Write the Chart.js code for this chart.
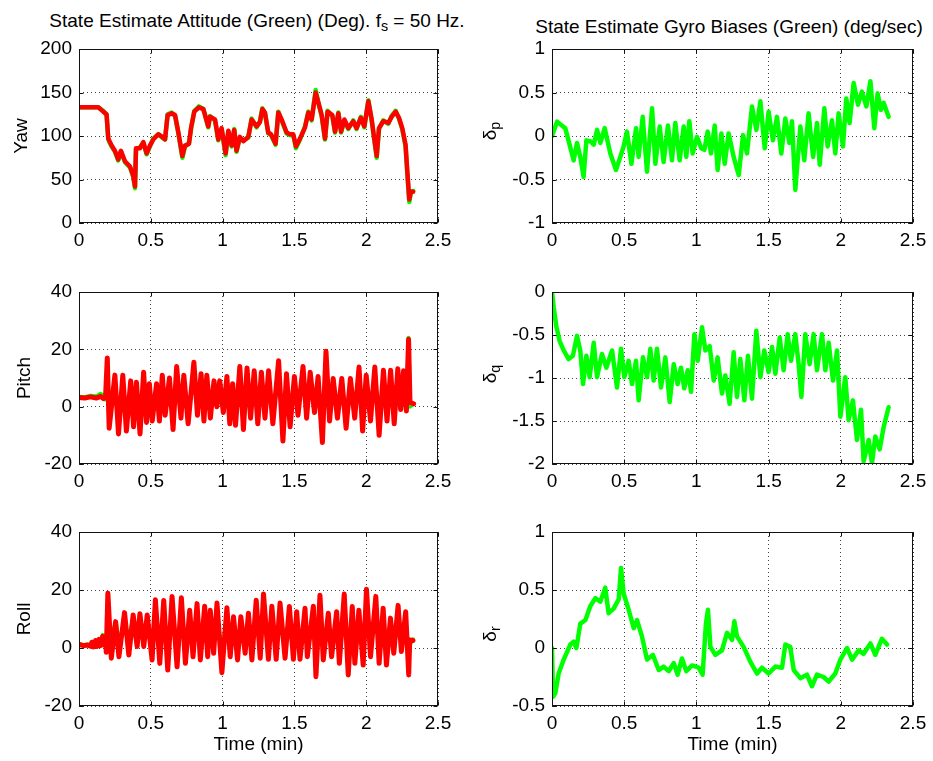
<!DOCTYPE html>
<html>
<head>
<meta charset="utf-8">
<script src="https://cdn.jsdelivr.net/npm/chart.js@4.4.1/dist/chart.umd.min.js"></script>
<style>
  body { margin: 0; background: #fff; }
  #fig { position: relative; width: 933px; height: 761px; overflow: hidden;
         font-family: "Liberation Sans", Arial, sans-serif; color: #000; background: #fff; }
  #fig canvas { position: absolute; }
  .title { position: absolute; font-size: 19px; line-height: 1; white-space: nowrap; transform: translateX(-50%); }
  .ylab  { position: absolute; font-size: 19px; line-height: 1; white-space: nowrap;
           transform: translate(-50%, -50%) rotate(-90deg); }
  sub { font-size: 0.75em; vertical-align: -0.3em; line-height: 0; }
</style>
</head>
<body>
<div id="fig">
  <div class="title" style="left:257px;top:11px">State Estimate Attitude (Green) (Deg). f<sub>s</sub> = 50 Hz.</div>
  <div class="title" style="left:729px;top:17px">State Estimate Gyro Biases (Green) (deg/sec)</div>

  <canvas id="c_yaw"   width="460" height="230" style="left:0px;top:30px"></canvas>
  <canvas id="c_pitch" width="460" height="230" style="left:0px;top:270px"></canvas>
  <canvas id="c_roll"  width="460" height="251" style="left:0px;top:510px"></canvas>
  <canvas id="c_dp"    width="467" height="230" style="left:466px;top:30px"></canvas>
  <canvas id="c_dq"    width="467" height="230" style="left:466px;top:270px"></canvas>
  <canvas id="c_dr"    width="467" height="251" style="left:466px;top:510px"></canvas>

  <div class="ylab" style="left:489px;top:131px">&delta;<sub>p</sub></div>
  <div class="ylab" style="left:489px;top:374px">&delta;<sub>q</sub></div>
  <div class="ylab" style="left:489px;top:634px">&delta;<sub>r</sub></div>
</div>

<script>
// ---- data (time in minutes) ----
const x_ticks = [0, 0.5, 1, 1.5, 2, 2.5];

const yaw_t = [0, 0.134, 0.169, 0.192, 0.204, 0.227, 0.25, 0.273, 0.292, 0.32, 0.355, 0.378, 0.39, 0.397, 0.425,
  0.448, 0.471, 0.494, 0.517, 0.552, 0.58, 0.599, 0.617, 0.645, 0.669, 0.692, 0.72, 0.738, 0.766, 0.78,
  0.803, 0.835, 0.866, 0.9, 0.912, 0.947, 0.97, 0.993, 1.021, 1.04, 1.063, 1.081, 1.097, 1.12, 1.144,
  1.179, 1.202, 1.237, 1.26, 1.277, 1.295, 1.318, 1.337, 1.369, 1.388, 1.411, 1.446, 1.469, 1.492, 1.511,
  1.539, 1.574, 1.597, 1.62, 1.648, 1.671, 1.69, 1.713, 1.731, 1.764, 1.783, 1.806, 1.825, 1.848, 1.875,
  1.91, 1.933, 1.963, 1.987, 2.015, 2.038, 2.056, 2.073, 2.089, 2.119, 2.154, 2.177, 2.205, 2.228, 2.251,
  2.274, 2.288, 2.3, 2.311, 2.327];
const yaw_red = [133, 133, 128, 125, 97, 89, 83, 73, 83, 71, 65, 54, 42, 86, 86,
  93, 80, 89, 96, 102, 99, 96, 124, 126, 124, 104, 77, 89, 91, 109,
  128, 133, 131, 111, 122, 119, 96, 109, 80, 106, 89, 107, 83, 99, 94,
  99, 119, 111, 116, 131, 127, 104, 102, 91, 127, 119, 104, 102, 102, 88,
  97, 110, 127, 119, 150, 136, 124, 97, 128, 124, 105, 126, 105, 119, 109,
  117, 109, 121, 111, 140, 119, 97, 77, 109, 117, 115, 122, 128, 121, 109,
  90, 55, 27, 36, 36];
const yaw_green = [133, 133, 129, 124, 96, 88, 82, 72, 82, 70, 64, 53, 40, 85, 87,
  92, 79, 88, 97, 102, 98, 96, 125, 127, 123, 103, 75, 88, 92, 108,
  129, 134, 131, 110, 123, 118, 95, 108, 78, 105, 88, 108, 82, 98, 95,
  98, 120, 110, 117, 132, 126, 103, 101, 90, 128, 118, 103, 101, 101, 86,
  96, 111, 128, 118, 153, 135, 123, 96, 129, 123, 104, 127, 104, 118, 108,
  118, 108, 122, 110, 141, 118, 96, 75, 108, 118, 114, 123, 129, 120, 108,
  88, 53, 24, 35, 37];

const pitch_t = [0, 0.04, 0.08, 0.12, 0.15, 0.17, 0.185, 0.197, 0.21, 0.25, 0.275, 0.305, 0.33, 0.36, 0.38,
  0.40, 0.425, 0.45, 0.47, 0.49, 0.51, 0.54, 0.56, 0.58, 0.60, 0.63, 0.655, 0.68, 0.71, 0.73,
  0.76, 0.80, 0.825, 0.85, 0.87, 0.89, 0.915, 0.94, 0.96, 0.98, 1.005, 1.03, 1.05, 1.07, 1.09,
  1.12, 1.145, 1.17, 1.195, 1.22, 1.245, 1.27, 1.295, 1.32, 1.35, 1.39, 1.42, 1.445, 1.47, 1.50,
  1.525, 1.56, 1.585, 1.61, 1.64, 1.665, 1.695, 1.72, 1.745, 1.77, 1.80, 1.83, 1.86, 1.89, 1.92,
  1.95, 1.975, 2.00, 2.03, 2.06, 2.09, 2.12, 2.145, 2.17, 2.195, 2.22, 2.24, 2.26, 2.28, 2.295,
  2.305, 2.33];
const pitch_red = [3.2, 3.0, 3.4, 3.0, 3.6, 2.8, 3.5, 17, -7.5, 11, -9.5, 11, -8.5, 9, -7,
  8.5, -9.5, 12, -5.5, 8, -5, 8, -5, 11, -3, 10, -8, 14, -4, 11,
  -6, 15.5, -3, 11.5, -5, 11, -4, 9, 0, 9, -2, 10.5, -6, 8, -6.5,
  14, -8, 13.5, -4, 12.5, -6, 12, -4, 12.5, -6, 16, -12, 11.5, -7, 10.5,
  -3, 14, -4, 12, -2, 10.5, -12.5, 19.3, -5, 9.8, -4, 9.8, -7.5, 9.8, -4,
  13.8, -8.5, 11, -5, 13.8, -10, 12.7, -5, 12.7, -6, 13.2, -1, 12.5, -1.5, 23.5,
  1.5, 1];
const pitch_green = [3.5, 3.3, 3.8, 3.6, 4.5, 4, 2.5, 8, 1, 6, -1, 6.5, 0, 6, -1,
  5, -2, 6, 1, 6, 0, 5, 1, 7, 1, 6, -1, 8, 1, 7,
  0, 8, 2, 7, 1, 7, 1, 6, 3, 7, 2, 6, 0, 5, 0,
  7, -1, 8, 1, 7, 0, 7, 1, 7, 0, 8, -3, 7, 0, 6,
  2, 8, 1, 8, 2, 6, -4, 9, 0, 6, 1, 6, -1, 6, 1,
  7, -1, 6, 0, 7, -2, 7, 1, 7, 0, 7, 2, 6, -1, 24,
  0, 1];

const roll_t = [0, 0.03, 0.06, 0.08, 0.09, 0.10, 0.115, 0.125, 0.14, 0.15, 0.165, 0.175, 0.185, 0.19, 0.201,
  0.225, 0.255, 0.278, 0.317, 0.347, 0.377, 0.405, 0.424, 0.451, 0.475, 0.509, 0.532, 0.5625, 0.59, 0.618,
  0.648, 0.683, 0.713, 0.741, 0.771, 0.794, 0.822, 0.845, 0.875, 0.896, 0.914, 0.9375, 0.961, 0.995, 1.03,
  1.053, 1.076, 1.104, 1.127, 1.157, 1.18, 1.204, 1.234, 1.262, 1.285, 1.319, 1.343, 1.373, 1.40, 1.435,
  1.465, 1.493, 1.516, 1.539, 1.574, 1.59, 1.632, 1.65, 1.678, 1.701, 1.736, 1.759, 1.794, 1.813, 1.847,
  1.875, 1.903, 1.921, 1.949, 1.979, 2.002, 2.03, 2.067, 2.09, 2.118, 2.141, 2.169, 2.192, 2.222, 2.245,
  2.275, 2.296, 2.303, 2.326];
const roll_red = [1.2, 0.8, 1.0, 0.6, 2, 0.4, 2.6, 0.5, 3, 0.8, 4, 1, 3.2, -1.5, 18.9,
  -3.5, 9.1, -3, 12.2, -2.4, 11.4, 0.5, 11.8, 0.5, 11.4, -4.1, 16.6, -5.3, 16.4, -7.6,
  17.8, -6.5, 17.3, -5.3, 13, -3, 15.3, -4.1, 14.4, -3, 13, -1.8, 15.5, -8.5, 13.9,
  -3, 10.8, -4.1, 10.8, -1.8, 12, -4.1, 16.5, -3.5, 18.6, -3.9, 14.4, -3.9, 15.5, -3.5,
  14.3, -3.9, 12.5, -3.9, 13.7, -3, 14.4, -9.9, 18.2, -4.1, 12, -3, 12.5, -5.3, 18.6,
  -9.3, 14.3, -5.3, 13, -5.9, 20.3, -3, 17.8, -5.3, 13.7, -5.9, 10.3, -1.8, 14.7, -1.2,
  12.5, -9.3, 2.8, 2.6];
const roll_green = [1.5, 1, 1.2, 1, 1.5, 1, 2, 1.5, 2.5, 2, 4.5, 2, 2, 1, 12,
  3, 9, 2, 9, 3, 10, 4, 10, 4, 9, 0, 10, 1, 10, -1,
  12, 0, 11, 1, 9, 2, 10, 1, 9, 2, 9, 3, 10, 0, 9,
  2, 8, 1, 8, 3, 9, 1, 10, 2, 11, 1, 9, 1, 10, 2,
  9, 1, 8, 1, 9, 2, 9, -1, 16, 1, 8, 2, 8, 1, 11,
  -1, 9, 1, 8, 1, 13, 2, 11, 1, 9, 2, 8, 3, 9, 3,
  8, -4, 1, 3];

const dp_t = [0, 0.035, 0.092, 0.15, 0.173, 0.196, 0.219, 0.238, 0.265, 0.289, 0.312, 0.335, 0.365, 0.404, 0.443,
  0.473, 0.496, 0.519, 0.55, 0.582, 0.6, 0.628, 0.658, 0.693, 0.716, 0.746, 0.773, 0.803, 0.831, 0.854,
  0.884, 0.912, 0.93, 0.951, 0.974, 1.004, 1.034, 1.055, 1.078, 1.101, 1.127, 1.147, 1.173, 1.196, 1.223,
  1.258, 1.293, 1.323, 1.35, 1.385, 1.415, 1.443, 1.473, 1.5, 1.53, 1.558, 1.588, 1.616, 1.644, 1.662,
  1.685, 1.72, 1.747, 1.777, 1.808, 1.835, 1.854, 1.886, 1.909, 1.939, 1.962, 1.985, 2.015, 2.038, 2.061,
  2.089, 2.119, 2.146, 2.177, 2.205, 2.232, 2.255, 2.278, 2.297, 2.331];
const dp_val = [0, 0.165, 0.09, -0.28, -0.08, -0.24, -0.47, -0.05, -0.06, -0.1, 0.07, -0.08, 0.09, -0.2, -0.39,
  -0.24, -0.12, 0.05, -0.32, 0.09, -0.24, 0.22, -0.41, 0.32, -0.32, 0.11, -0.3, 0.12, -0.28, 0.15,
  -0.28, 0.11, -0.24, 0.17, -0.2, -0.01, -0.14, -0.16, 0.05, -0.2, 0.12, -0.39, 0.03, -0.32, 0.03,
  -0.24, -0.45, 0.01, -0.2, 0.34, 0.07, 0.4, -0.14, 0.28, -0.05, 0.22, -0.2, 0.2, -0.08, 0.17,
  -0.62, 0.11, -0.28, 0.26, -0.24, 0.15, -0.33, 0.32, -0.12, 0.18, -0.2, 0.26, -0.12, 0.43, 0.15,
  0.61, 0.36, 0.51, 0.34, 0.63, 0.09, 0.49, 0.3, 0.38, 0.22];

const dq_t = [0, 0.012, 0.03, 0.053, 0.081, 0.115, 0.145, 0.173, 0.196, 0.215, 0.238, 0.261, 0.289, 0.312, 0.346,
  0.376, 0.416, 0.45, 0.478, 0.501, 0.531, 0.554, 0.582, 0.6, 0.63, 0.658, 0.681, 0.704, 0.727, 0.755,
  0.785, 0.815, 0.843, 0.87, 0.893, 0.916, 0.94, 0.963, 0.986, 1.009, 1.039, 1.062, 1.092, 1.12, 1.147,
  1.177, 1.2, 1.23, 1.258, 1.281, 1.304, 1.332, 1.357, 1.385, 1.415, 1.443, 1.47, 1.5, 1.524, 1.547,
  1.577, 1.604, 1.632, 1.655, 1.685, 1.708, 1.727, 1.754, 1.784, 1.812, 1.835, 1.87, 1.893, 1.916, 1.946,
  1.974, 1.997, 2.031, 2.054, 2.084, 2.112, 2.14, 2.158, 2.193, 2.216, 2.239, 2.269, 2.297, 2.331];
const dq_val = [0, -0.18, -0.4, -0.57, -0.68, -0.78, -0.74, -0.51, -0.68, -1.07, -0.74, -0.99, -0.59, -0.99, -0.72,
  -0.88, -0.68, -1.11, -0.66, -0.99, -0.8, -1.07, -0.8, -1.26, -0.76, -0.99, -0.66, -1.03, -0.66, -1.11,
  -0.76, -1.28, -0.84, -1.07, -0.88, -1.12, -0.91, -1.16, -0.49, -0.8, -0.41, -0.68, -0.63, -1.03, -0.76,
  -1.18, -0.97, -1.3, -0.7, -1.22, -0.78, -1.26, -0.74, -1.24, -0.45, -0.99, -0.68, -0.93, -0.64, -0.95,
  -0.53, -0.91, -0.49, -0.8, -0.49, -0.84, -1.22, -0.49, -0.84, -0.49, -0.91, -0.49, -0.91, -0.59, -1.03,
  -0.68, -1.45, -0.99, -1.49, -1.26, -1.72, -1.37, -1.97, -1.72, -1.99, -1.68, -1.83, -1.57, -1.34];

const dr_t = [0, 0.007, 0.023, 0.046, 0.081, 0.127, 0.15, 0.169, 0.196, 0.231, 0.265, 0.3, 0.335, 0.369, 0.392,
  0.427, 0.462, 0.478, 0.496, 0.531, 0.566, 0.589, 0.623, 0.658, 0.699, 0.739, 0.773, 0.808, 0.843, 0.87,
  0.9, 0.93, 0.97, 1.016, 1.043, 1.066, 1.08, 1.097, 1.131, 1.177, 1.212, 1.247, 1.263, 1.281, 1.327,
  1.374, 1.42, 1.454, 1.5, 1.547, 1.593, 1.616, 1.65, 1.674, 1.72, 1.766, 1.8, 1.835, 1.881, 1.916,
  1.962, 1.997, 2.043, 2.078, 2.124, 2.158, 2.205, 2.239, 2.285, 2.32];
const dr_val = [0, -0.42, -0.39, -0.22, -0.1, 0.03, 0.055, 0, 0.21, 0.24, 0.36, 0.43, 0.4, 0.52, 0.3,
  0.34, 0.42, 0.69, 0.47, 0.33, 0.17, 0.24, 0.1, -0.1, -0.06, -0.19, -0.16, -0.2, -0.13, -0.23,
  -0.09, -0.2, -0.15, -0.17, -0.23, 0.21, 0.33, 0.01, -0.06, -0.02, 0.13, 0.07, 0.23, 0.1, 0.01,
  -0.12, -0.22, -0.17, -0.22, -0.16, -0.17, 0.03, 0.01, -0.19, -0.26, -0.23, -0.33, -0.23, -0.25, -0.29,
  -0.22, -0.1, 0, -0.1, -0.02, -0.05, 0.04, -0.06, 0.08, 0.03];

// ---- drawing ----
const FONT = { family: '"Liberation Sans", Arial, sans-serif', size: 19 };
const RED = '#ff0000';
const GREEN = '#00ff00';

function xy(ts, vs) {
    return ts.map((t, i) => ({ x: t, y: vs[i] }));
}

function line(ts, vs, color, width) {
    return { data: xy(ts, vs), borderColor: color, borderWidth: width, pointRadius: 0,
             tension: 0, borderJoinStyle: 'round', borderCapStyle: 'round' };
}

// plain numbers like MATLAB: 1 not 1.0
function tick_text(v) {
    return String(Math.round(v * 100) / 100);
}

// MATLAB style box with inward ticks, drawn over the data
const matlab_box = {
    id: 'matlab_box',
    afterDatasetsDraw(chart) {
        const { ctx, chartArea: a, scales } = chart;
        const L = Math.round(a.left) + 0.5, R = Math.round(a.right) - 0.5;
        const T = Math.round(a.top) + 0.5, B = Math.round(a.bottom) - 0.5;
        ctx.save();
        ctx.strokeStyle = '#111';
        ctx.lineWidth = 1;
        ctx.beginPath();
        scales.x.ticks.forEach(t => {
            const px = Math.round(scales.x.getPixelForValue(t.value)) + 0.5;
            ctx.moveTo(px, B); ctx.lineTo(px, B - 4);
            ctx.moveTo(px, T); ctx.lineTo(px, T + 4);
        });
        scales.y.ticks.forEach(t => {
            const py = Math.round(scales.y.getPixelForValue(t.value)) + 0.5;
            ctx.moveTo(L, py); ctx.lineTo(L + 4, py);
            ctx.moveTo(R, py); ctx.lineTo(R - 4, py);
        });
        ctx.stroke();
        ctx.strokeRect(L, T, R - L, B - T);
        ctx.restore();
    }
};

function make_chart(id, c) {
    const grid = { color: '#444', lineWidth: 1, drawTicks: false };
    const border = { display: false, dash: [1, 3] };
    return new Chart(document.getElementById(id), {
        type: 'line',
        data: { datasets: c.datasets },
        options: {
            responsive: false,
            animation: false,
            events: [],
            layout: { padding: c.padding },
            plugins: { legend: { display: false }, tooltip: { enabled: false } },
            scales: {
                x: {
                    type: 'linear', min: 0, max: 2.5,
                    afterBuildTicks: s => { s.ticks = x_ticks.map(v => ({ value: v })); },
                    ticks: { color: '#000', font: FONT, padding: 6, maxRotation: 0, callback: tick_text },
                    grid: grid, border: border,
                    title: c.x_title
                        ? { display: true, text: c.x_title, color: '#000', font: FONT, padding: { top: 0, bottom: 5 } }
                        : { display: false },
                    afterFit: s => { s.height = c.x_height; }
                },
                y: {
                    type: 'linear', min: c.y_ticks[0], max: c.y_ticks[c.y_ticks.length - 1],
                    afterBuildTicks: s => { s.ticks = c.y_ticks.map(v => ({ value: v })); },
                    ticks: { color: '#000', font: FONT, padding: 7, callback: tick_text },
                    grid: grid, border: border,
                    title: c.y_title
                        ? { display: true, text: c.y_title, color: '#000', font: FONT, padding: { top: c.y_title_pad, bottom: 0 } }
                        : { display: false },
                    afterFit: s => { s.width = c.y_width; }
                }
            }
        },
        plugins: [matlab_box]
    });
}

const yaw_ticks   = [0, 50, 100, 150, 200];
const pitch_ticks = [-20, 0, 20, 40];
const roll_ticks  = [-20, 0, 20, 40];
const dp_ticks    = [-1, -0.5, 0, 0.5, 1];
const dq_ticks    = [-2, -1.5, -1, -0.5, 0];
const dr_ticks    = [-0.5, 0, 0.5, 1];

make_chart('c_yaw', {
    datasets: [line(yaw_t, yaw_red, RED, 4.5), line(yaw_t, yaw_green, GREEN, 4.5)],
    padding: { left: 0, right: 22, top: 19, bottom: 0 },
    y_ticks: yaw_ticks, y_title: 'Yaw', y_title_pad: 10, y_width: 79, x_height: 37
});
make_chart('c_pitch', {
    datasets: [line(pitch_t, pitch_red, RED, 5), line(pitch_t, pitch_green, GREEN, 4)],
    padding: { left: 0, right: 22, top: 22, bottom: 0 },
    y_ticks: pitch_ticks, y_title: 'Pitch', y_title_pad: 13, y_width: 79, x_height: 36
});
make_chart('c_roll', {
    datasets: [line(roll_t, roll_red, RED, 5), line(roll_t, roll_green, GREEN, 4)],
    padding: { left: 0, right: 22, top: 22, bottom: 0 },
    y_ticks: roll_ticks, y_title: 'Roll', y_title_pad: 13, y_width: 79, x_height: 55,
    x_title: 'Time (min)'
});
make_chart('c_dp', {
    datasets: [line(dp_t, dp_val, GREEN, 4.5)],
    padding: { left: 0, right: 20, top: 19, bottom: 0 },
    y_ticks: dp_ticks, y_width: 86, x_height: 37
});
make_chart('c_dq', {
    datasets: [line(dq_t, dq_val, GREEN, 4.5)],
    padding: { left: 0, right: 20, top: 22, bottom: 0 },
    y_ticks: dq_ticks, y_width: 86, x_height: 36
});
make_chart('c_dr', {
    datasets: [line(dr_t, dr_val, GREEN, 4.5)],
    padding: { left: 0, right: 20, top: 22, bottom: 0 },
    y_ticks: dr_ticks, y_width: 86, x_height: 55,
    x_title: 'Time (min)'
});
</script>
</body>
</html>
